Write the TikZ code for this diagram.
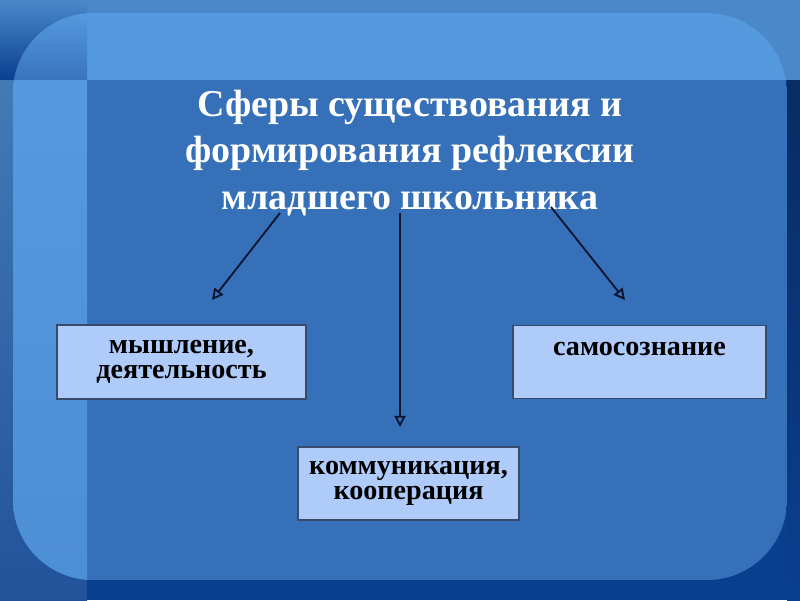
\documentclass[tikz,border=0pt]{standalone}
\usepackage{fontspec}
\setmainfont{Liberation Serif}
\usetikzlibrary{arrows.meta}
\definecolor{slidedark}{HTML}{0A3F8F}
\definecolor{slidenavy}{HTML}{082C64}
\definecolor{bandblue}{HTML}{4A88CA}
\definecolor{paneltop}{HTML}{5599DE}
\definecolor{panelmain}{HTML}{3570B8}
\definecolor{boxfill}{HTML}{AECBFA}
\definecolor{boxline}{HTML}{3A4A6A}
\definecolor{arrowink}{HTML}{0A1530}

\begin{document}
\begin{tikzpicture}[x=0.025cm, y=-0.025cm,
    sphere/.style={draw=boxline, fill=boxfill, line width=0.8pt, align=center,
      font=\fontsize{20}{18}\selectfont\bfseries, inner sep=0pt},
    branch/.style={draw=arrowink, line width=1.3pt,
      -{Triangle[open, length=8pt, width=8pt]}}]
    % background of the slide
    \useasboundingbox (0,0) rectangle (800,600);
    \fill[slidedark] (0,0) rectangle (800,600);
    \fill[bandblue] (0,0) rectangle (800,80);
    \shade[top color=bandblue, bottom color=slidedark] (0,0) rectangle (87,80);
    \shade[top color=bandblue!90!black, bottom color=slidedark!90!white] (0,80) rectangle (87,600);
    \shade[top color=slidenavy, bottom color=slidedark] (787,80) rectangle (800,600);
    % rounded panel
    \begin{scope}
      \clip[rounded corners=2cm] (13,13) rectangle (787,580);
      \fill[panelmain] (13,13) rectangle (787,580);
      \fill[paneltop] (87,13) rectangle (787,80);
      \shade[top color=paneltop, bottom color=panelmain!90!paneltop] (13,13) rectangle (87,80);
      \shade[top color=paneltop, bottom color=paneltop!75!panelmain] (13,80) rectangle (87,580);
    \end{scope}
    % title
    \node[white, align=center, font=\fontsize{27}{33}\selectfont\bfseries] (title) at (410,153)
      {Сферы существования и\\формирования рефлексии\\младшего школьника};
    % boxes
    \node[sphere, minimum width=6.225cm, minimum height=1.85cm] (thinking) at (181.5,362)
      {мышление,\\деятельность};
    \node[sphere, minimum width=5.525cm, minimum height=1.825cm] (communication) at (408.5,483.5)
      {коммуникация,\\кооперация};
    \node[sphere, minimum width=6.325cm, minimum height=1.825cm] (selfaware) at (639.5,362)
      {самосознание\\\mbox{}};
    % arrows
    \coordinate (leftstart) at (280,213);
    \coordinate (leftend) at (212,300);
    \coordinate (midstart) at (400,213);
    \coordinate (midend) at (400,427);
    \coordinate (rightstart) at (551,207);
    \coordinate (rightend) at (625,300);
    \foreach \from/\to in {leftstart/leftend, midstart/midend, rightstart/rightend}
      \draw[branch] (\from) -- (\to);
\end{tikzpicture}
\end{document}
